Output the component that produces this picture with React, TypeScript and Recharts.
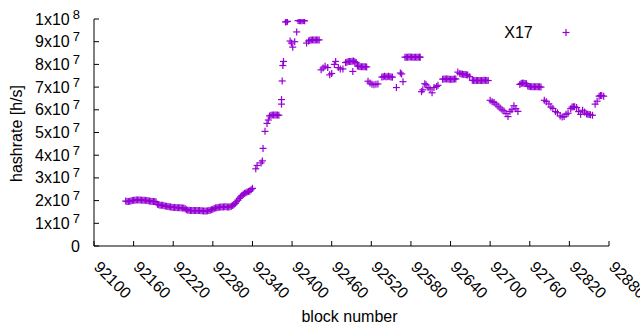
import React from 'react';
import { ScatterChart, Scatter, XAxis, YAxis, Legend } from 'recharts';

const seriesName = 'X17';

// block numbers (x)
const blocks = [
  92148, 92150, 92152, 92154, 92156, 92158, 92160, 92162, 92164, 92166, 92168, 92170, 92172, 92174, 92176, 92178, 92180, 92182, 92184, 92186, 92188, 92190, 92192, 92194,
  92196, 92198, 92200, 92202, 92204, 92206, 92208, 92210, 92212, 92214, 92216, 92218, 92220, 92222, 92224, 92226, 92228, 92230, 92232, 92234, 92236, 92238,
  92240, 92242, 92244, 92246, 92248, 92250, 92252, 92254, 92256, 92258, 92260, 92262, 92264, 92266, 92268, 92270, 92272, 92274, 92276, 92278, 92280, 92282,
  92284, 92286, 92288, 92290, 92292, 92294, 92296, 92298, 92300, 92302, 92304, 92306, 92308, 92310, 92312, 92314, 92316, 92318, 92320, 92322, 92324, 92326, 92328, 92330, 92332, 92334, 92336, 92338, 92340,
  92345, 92347, 92353, 92355, 92356, 92359, 92362, 92364, 92366, 92368, 92370, 92372, 92374, 92376, 92378, 92380, 92384, 92384, 92385, 92386, 92387,
  92390, 92392, 92393, 92397, 92399, 92401, 92404, 92407, 92409, 92411, 92413, 92415, 92417, 92419, 92422,
  92425, 92427, 92429, 92431, 92433, 92435, 92437, 92439, 92441,
  92444, 92447, 92450, 92454, 92457, 92460, 92464, 92466, 92470, 92473, 92477, 92481,
  92483, 92485, 92487, 92489, 92491, 92492, 92493, 92495, 92497,
  92499, 92501, 92503, 92505, 92507, 92509, 92511, 92513,
  92515, 92518, 92521, 92524, 92527, 92530,
  92536, 92538, 92540, 92542, 92544, 92546, 92548, 92550, 92552,
  92558, 92564, 92566, 92568,
  92571, 92573, 92575, 92577, 92579, 92581, 92583, 92585, 92587, 92589, 92591, 92593, 92594,
  92596, 92598, 92601, 92603, 92606, 92609, 92612, 92615, 92619, 92621,
  92628, 92630, 92632, 92634, 92636, 92638, 92640, 92642, 92644, 92646, 92648,
  92651, 92654, 92656, 92658, 92660, 92662, 92664, 92666, 92669,
  92673, 92675, 92677, 92679, 92681, 92683, 92685, 92687, 92689, 92691, 92693, 92695, 92697,
  92700, 92703, 92706, 92709, 92712, 92715, 92718, 92721, 92724, 92727, 92730, 92733, 92736, 92739, 92742,
  92745, 92747, 92749, 92751, 92753, 92755, 92757, 92759, 92761, 92763, 92765, 92767, 92769, 92771, 92773, 92775, 92777,
  92782, 92785, 92789, 92792, 92795, 92799, 92802, 92806, 92809, 92812, 92815, 92818, 92822, 92824, 92826, 92828, 92831, 92834, 92837, 92840, 92843, 92846, 92848, 92850, 92852, 92855, 92859, 92862, 92865, 92867, 92869, 92872,
];

// hashrate in millions of h/s, same order as blocks
const hashratesM = [
  19.8, 19.6, 19.6, 19.7, 19.8, 20.0, 20.1, 20.2, 20.3, 20.3, 20.3, 20.3, 20.2, 20.2, 20.2, 20.1, 20.0, 19.9, 19.8, 19.7, 19.6, 19.6, 19.6, 19.4,
  18.4, 18.2, 18.0, 18.0, 17.9, 17.7, 17.6, 17.5, 17.4, 17.3, 17.2, 17.1, 17.0, 17.0, 17.0, 16.9, 16.9, 16.8, 16.8, 16.7, 16.7, 16.4,
  16.0, 15.8, 15.7, 15.6, 15.6, 15.6, 15.6, 15.6, 15.6, 15.6, 15.6, 15.5, 15.5, 15.4, 15.4, 15.4, 15.5, 15.6, 15.8, 16.0, 16.2, 16.5,
  16.8, 16.9, 17.0, 17.1, 17.2, 17.2, 17.2, 17.3, 17.3, 17.2, 17.2, 17.3, 17.5, 17.8, 18.2, 18.8, 19.5, 20.2, 21.0, 21.6, 22.2, 22.8, 23.2, 23.5, 23.8, 24.0, 24.2, 24.8, 25.4,
  34.0, 35.5, 36.6, 37.5, 43.0, 50.5, 54.0, 55.5, 57.3, 57.6, 57.7, 57.7, 57.7, 57.7, 57.7, 57.6, 62.5, 64.5, 72.7, 79.5, 81.3,
  98.7, 98.8, 99.0, 90.3, 89.4, 87.6, 90.0, 94.3, 99.3, 99.2, 99.2, 99.2, 99.3, 99.2, 89.4,
  90.3, 90.6, 90.8, 90.8, 90.8, 90.8, 90.8, 90.8, 90.8,
  77.6, 78.4, 79.2, 78.6, 75.4, 76.0, 80.0, 81.3, 78.6, 78.0, 78.0, 80.8,
  81.0, 81.3, 81.3, 81.3, 81.4, 76.9, 81.5, 81.2, 80.8,
  79.3, 79.1, 79.0, 79.0, 79.0, 79.0, 79.0, 78.9,
  72.6, 71.8, 71.3, 71.0, 71.3, 71.4,
  74.4, 74.6, 74.8, 74.6, 74.6, 74.8, 74.6, 74.5, 74.4,
  69.8, 76.2, 75.8, 72.4,
  83.2, 83.2, 83.2, 83.3, 83.3, 83.2, 83.2, 83.2, 83.2, 83.2, 83.2, 83.2, 83.2,
  68.0, 68.8, 71.5, 71.0, 69.8, 69.2, 67.5, 69.8, 70.3, 70.8,
  73.5, 73.6, 73.6, 73.6, 73.6, 73.5, 73.4, 73.5, 73.5, 73.6, 73.6,
  76.6, 76.0, 75.8, 75.7, 75.6, 75.6, 75.4, 75.3, 74.6,
  73.0, 72.9, 72.9, 72.9, 72.9, 72.9, 72.9, 72.9, 72.9, 73.0, 73.0, 72.9, 72.9,
  64.2, 63.6, 63.2, 62.5, 61.6, 60.8, 60.0, 59.5, 58.4, 57.0, 59.2, 60.0, 61.8, 60.5, 59.3,
  71.2, 71.6, 71.8, 71.7, 71.6, 71.5, 70.5, 70.3, 70.2, 70.2, 70.2, 70.2, 70.2, 70.2, 70.2, 70.1, 70.0,
  64.2, 63.6, 62.6, 61.2, 60.6, 59.2, 58.7, 57.3, 56.8, 57.0, 58.0, 58.5, 60.5, 61.2, 61.3, 61.3, 61.0, 59.2, 58.0, 59.8, 59.0, 58.2, 58.0, 57.9, 57.8, 57.6, 62.5, 63.8, 66.0, 66.3, 66.3, 66.0,
];

const xTicks = [92100, 92160, 92220, 92280, 92340, 92400, 92460, 92520, 92580, 92640, 92700, 92760, 92820, 92880];
const yTicks = [0, 1e7, 2e7, 3e7, 4e7, 5e7, 6e7, 7e7, 8e7, 9e7, 1e8];

const data = blocks.map((b, i) => ({ block: b, rate: hashratesM[i] * 1e6 }));

const FONT = '"Liberation Sans", Arial, sans-serif';
const COLOR = '#9400d3';
const FS = 16;

const PlusShape = (props: any) => {
  const { cx, cy } = props;
  if (cx == null || cy == null) return <g />;
  return (
    <g>
      <line x1={cx - 3.5} x2={cx + 3.5} y1={cy} y2={cy} stroke={COLOR} strokeWidth={1.2} />
      <line x1={cx} x2={cx} y1={cy - 3.5} y2={cy + 3.5} stroke={COLOR} strokeWidth={1.2} />
    </g>
  );
};

const XTick = (props: any) => {
  const { x, y, payload } = props;
  return (
    <text
      transform={`translate(${x - 1},${y}) rotate(45)`}
      textAnchor="start"
      fontSize={FS}
      fontFamily={FONT}
      fill="#000"
    >
      {payload.value}
    </text>
  );
};

const YTick = (props: any) => {
  const { x, y, payload } = props;
  const v = payload.value as number;
  if (v === 0) {
    return (
      <text x={x} y={y + 5.5} textAnchor="end" fontSize={FS} fontFamily={FONT} fill="#000">
        0
      </text>
    );
  }
  const exp = Math.floor(Math.log10(v) + 1e-9);
  const mant = Math.round(v / Math.pow(10, exp));
  return (
    <text x={x} y={y + 5.5} textAnchor="end" fontSize={FS} fontFamily={FONT} fill="#000">
      {`${mant}x10`}
      <tspan dx={3} dy={-6} fontSize={13}>{exp}</tspan>
    </text>
  );
};

const XLabel = (props: any) => {
  const vb = props.viewBox || {};
  return (
    <text x={vb.x + vb.width / 2 - 2} y={322} textAnchor="middle" fontSize={FS} fontFamily={FONT} fill="#000">
      block number
    </text>
  );
};

const YLabel = (props: any) => {
  const vb = props.viewBox || {};
  return (
    <text
      transform={`translate(21.5,${vb.y + vb.height / 2 + 1}) rotate(-90)`}
      textAnchor="middle"
      fontSize={FS}
      fontFamily={FONT}
      fill="#000"
    >
      hashrate [h/s]
    </text>
  );
};

const LegendContent = (props: any) => {
  const p = props.payload && props.payload[0];
  const name = p ? p.value : seriesName;
  return (
    <svg width={640} height={50} style={{ display: 'block' }}>
      <text x={532.7} y={37.5} textAnchor="end" fontSize={FS} fontFamily={FONT} fill="#000">
        {name}
      </text>
      <PlusShape cx={566} cy={32.5} />
    </svg>
  );
};

export default function App() {
  return (
    <div style={{ position: 'absolute', left: 0, top: 0, width: 640, height: 330, background: '#fff' }}>
      <ScatterChart width={640} height={330} margin={{ top: 19, right: 31, bottom: 0, left: 0 }}>
        <XAxis
          xAxisId="b"
          dataKey="block"
          type="number"
          domain={[92100, 92880]}
          ticks={xTicks}
          interval={0}
          allowDataOverflow
          height={84}
          stroke="#000"
          axisLine={{ stroke: '#000' }}
          tickLine={{ stroke: '#000' }}
          tickSize={-5}
          tickMargin={27}
          tick={<XTick />}
          label={XLabel}
        />
        <XAxis
          xAxisId="t"
          orientation="top"
          dataKey="block"
          type="number"
          domain={[92100, 92880]}
          ticks={xTicks}
          interval={0}
          allowDataOverflow
          height={0}
          axisLine={{ stroke: '#000' }}
          tickLine={{ stroke: '#000' }}
          tickSize={-5}
          tick={false}
        />
        <YAxis
          yAxisId="l"
          dataKey="rate"
          type="number"
          domain={[0, 1e8]}
          ticks={yTicks}
          interval={0}
          allowDataOverflow
          width={94}
          axisLine={{ stroke: '#000' }}
          tickLine={{ stroke: '#000' }}
          tickSize={-5}
          tickMargin={19}
          tick={<YTick />}
          label={YLabel}
        />
        <YAxis
          yAxisId="r"
          orientation="right"
          dataKey="rate"
          type="number"
          domain={[0, 1e8]}
          ticks={yTicks}
          interval={0}
          allowDataOverflow
          width={0}
          axisLine={{ stroke: '#000' }}
          tickLine={{ stroke: '#000' }}
          tickSize={-5}
          tick={false}
        />
        <Legend
          layout="horizontal"
          verticalAlign="middle"
          align="center"
          content={LegendContent}
          wrapperStyle={{ position: 'absolute', left: 0, top: 0, width: 640, height: 50, margin: 0 }}
        />
        <Scatter
          name={seriesName}
          data={data}
          xAxisId="b"
          yAxisId="l"
          fill={COLOR}
          shape={PlusShape}
          isAnimationActive={false}
        />
      </ScatterChart>
    </div>
  );
}
